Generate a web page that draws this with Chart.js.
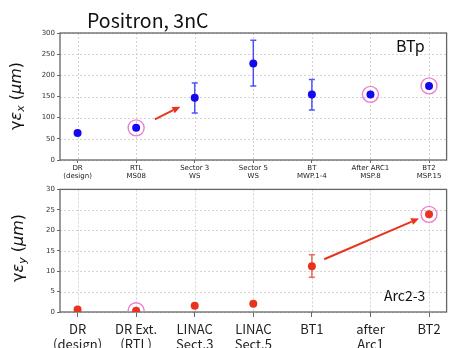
<!DOCTYPE html>
<html><head><meta charset="utf-8">
<script src="https://cdn.jsdelivr.net/npm/chart.js@4"></script>
<style>
body{margin:0;width:456px;height:348px;overflow:hidden;background:#fff;position:relative;}
canvas{position:absolute;left:0}
#cA{top:0} #cB{top:180px}
.t{position:absolute;white-space:nowrap;color:#111;line-height:1;font-family:"Noto Sans CJK JP";}
.rot{position:absolute;white-space:nowrap;color:#111;line-height:1;font-family:"DejaVu Sans";font-size:16px;transform:translate(-50%,-50%) rotate(-90deg);}
.rot sub{font-size:11px;vertical-align:-3px;}
</style></head><body>
<canvas id="cA" width="456" height="185"></canvas>
<canvas id="cB" width="456" height="168"></canvas>
<div class="t" style="left:87px;top:10px;font-size:19.5px;">Positron, 3nC</div>
<div class="t" style="left:396px;top:37px;font-size:16px;">BTp</div>
<div class="t" style="left:384px;top:288px;font-size:14px;">Arc2-3</div>
<div class="rot" style="left:17px;top:96px;">γ<i>ε</i><sub><i>x</i></sub> (<i>μm</i>)</div>
<div class="rot" style="left:19px;top:248px;">γ<i>ε</i><sub><i>y</i></sub> (<i>μm</i>)</div>
<script>
// ---- data ----
const topLabels = [["DR","(design)"],["RTL","MS08"],["Sector 3","WS"],["Sector 5","WS"],["BT","MWP.1-4"],["After ARC1","MSP.8"],["BT2","MSP.15"]];
const bottomLabels = [["DR","(design)"],["DR Ext.","(RTL)"],["LINAC","Sect.3"],["LINAC","Sect.5"],["BT1"],["after","Arc1"],["BT2"]];
const emitX = [64, 76, 147, 228, 155, 155, 175];
const emitXErrLow = [null, null, 111, 175, 118, null, null];
const emitXErrHigh = [null, null, 182, 283, 190, null, null];
const emitY = [0.6, 0.3, 1.5, 2.0, 11.2, null, 23.9];
const emitYErrLow = [null, null, null, null, 8.5, null, null];
const emitYErrHigh = [null, null, null, null, 14.0, null, null];
const circledX = [1, 5, 6];
const circledY = [1, 6];
const yTicksX = [0, 50, 100, 150, 200, 250, 300];
const yTicksY = [0, 5, 10, 15, 20, 25, 30];
const arrowX = [[1.32, 96], [1.755, 126]];
const arrowY = [[4.21, 12.9], [5.83, 22.9]];

const BLUE = '#1408f0', RED = '#e8341f', PINK = '#ec7fd2';

const decor = {
  id: 'decor',
  beforeDatasetsDraw(chart, args, o) {
    const {ctx, chartArea: a, scales: {x, y}} = chart;
    ctx.save();
    ctx.strokeStyle = '#c8c8c8'; ctx.lineWidth = 0.8; ctx.setLineDash([2, 2]);
    x.ticks.forEach(t => { const p = Math.round(x.getPixelForValue(t.value)) + 0.5;
      ctx.beginPath(); ctx.moveTo(p, a.top); ctx.lineTo(p, a.bottom); ctx.stroke(); });
    y.ticks.forEach(t => { const p = Math.round(y.getPixelForValue(t.value)) + 0.5;
      ctx.beginPath(); ctx.moveTo(a.left, p); ctx.lineTo(a.right, p); ctx.stroke(); });
    ctx.setLineDash([]);
    ctx.strokeStyle = '#666'; ctx.lineWidth = 1.3;
    ctx.strokeRect(a.left, a.top, a.right - a.left, a.bottom - a.top);
    // error bars
    ctx.strokeStyle = o.errColor; ctx.lineWidth = 1.5;
    o.lo.forEach((lo, i) => {
      const hi = o.hi[i]; if (lo == null || hi == null) return;
      const px = x.getPixelForValue(i), p1 = y.getPixelForValue(lo), p2 = y.getPixelForValue(hi);
      ctx.beginPath(); ctx.moveTo(px, p1); ctx.lineTo(px, p2);
      ctx.moveTo(px - 3, p1); ctx.lineTo(px + 3, p1);
      ctx.moveTo(px - 3, p2); ctx.lineTo(px + 3, p2); ctx.stroke();
    });
    ctx.restore();
  },
  afterDatasetsDraw(chart, args, o) {
    const {ctx, scales: {x, y}} = chart;
    const [s, e] = o.arrow;
    const x1 = x.getPixelForValue(s[0]), y1 = y.getPixelForValue(s[1]);
    const x2 = x.getPixelForValue(e[0]), y2 = y.getPixelForValue(e[1]);
    const ang = Math.atan2(y2 - y1, x2 - x1), L = 8, W = 3.5;
    const bx = x2 - L * Math.cos(ang), by = y2 - L * Math.sin(ang);
    ctx.save();
    ctx.strokeStyle = RED; ctx.fillStyle = RED; ctx.lineWidth = 2;
    ctx.beginPath(); ctx.moveTo(x1, y1); ctx.lineTo(bx, by); ctx.stroke();
    ctx.beginPath(); ctx.moveTo(x2, y2);
    ctx.lineTo(bx + W * Math.sin(ang), by - W * Math.cos(ang));
    ctx.lineTo(bx - W * Math.sin(ang), by + W * Math.cos(ang));
    ctx.closePath(); ctx.fill();
    ctx.restore();
  }
};

function makeChart(id, cfg) {
  return new Chart(document.getElementById(id), {
    type: 'scatter',
    data: { datasets: [
      { data: cfg.vals.map((v, i) => ({x: i, y: v})), pointRadius: 4, pointBackgroundColor: cfg.color, pointBorderWidth: 0, clip: 0 },
      { data: cfg.circled.map(i => ({x: i, y: cfg.vals[i]})), pointRadius: 8, pointBackgroundColor: 'rgba(0,0,0,0)', pointBorderColor: PINK, pointBorderWidth: 1.4, clip: 0 }
    ]},
    options: {
      responsive: false, animation: false, events: [],
      layout: { padding: { top: cfg.padTop, right: 1, left: 0, bottom: 0 } },
      plugins: { legend: {display: false}, tooltip: {enabled: false},
        decor: { lo: cfg.lo, hi: cfg.hi, errColor: cfg.errColor, arrow: cfg.arrow } },
      scales: {
        x: { type: 'linear', min: -0.3, max: 6.3,
          afterBuildTicks: s => { s.ticks = cfg.labels.map((_, i) => ({value: i})); },
          afterFit: s => { s.height = cfg.xh; },
          ticks: { autoSkip: false, maxRotation: 0, minRotation: 0, padding: cfg.xpad, color: '#222',
            font: cfg.xfont, callback: v => cfg.labels[v] },
          grid: { drawOnChartArea: false, tickLength: cfg.xtick, tickColor: '#666', tickWidth: 1 },
          border: { display: false } },
        y: { min: cfg.ymin, max: cfg.ymax,
          afterBuildTicks: s => { s.ticks = cfg.yticks.map(v => ({value: v})); },
          afterFit: s => { s.width = 60; },
          ticks: { padding: 2, color: '#333', font: {family: 'DejaVu Sans', size: 7} },
          grid: { drawOnChartArea: false, tickLength: 3, tickColor: '#666', tickWidth: 1 },
          border: { display: false } }
      }
    },
    plugins: [decor]
  });
}

makeChart('cA', { vals: emitX, circled: circledX, color: BLUE, lo: emitXErrLow, hi: emitXErrHigh,
  errColor: 'rgba(40,40,250,0.8)', arrow: arrowX, labels: topLabels, padTop: 33, xh: 25, xpad: 2, xtick: 3,
  xfont: {family: 'DejaVu Sans', size: 7, lineHeight: 1.05}, ymin: 0, ymax: 300, yticks: yTicksX });
makeChart('cB', { vals: emitY, circled: circledY, color: RED, lo: emitYErrLow, hi: emitYErrHigh,
  errColor: 'rgba(232,80,60,0.85)', arrow: arrowY, labels: bottomLabels, padTop: 5, xh: 36, xpad: 4, xtick: 5,
  xfont: {family: 'Noto Sans CJK JP', size: 13, lineHeight: 1.2}, ymin: 0, ymax: 30, yticks: yTicksY });
</script>
</body></html>
